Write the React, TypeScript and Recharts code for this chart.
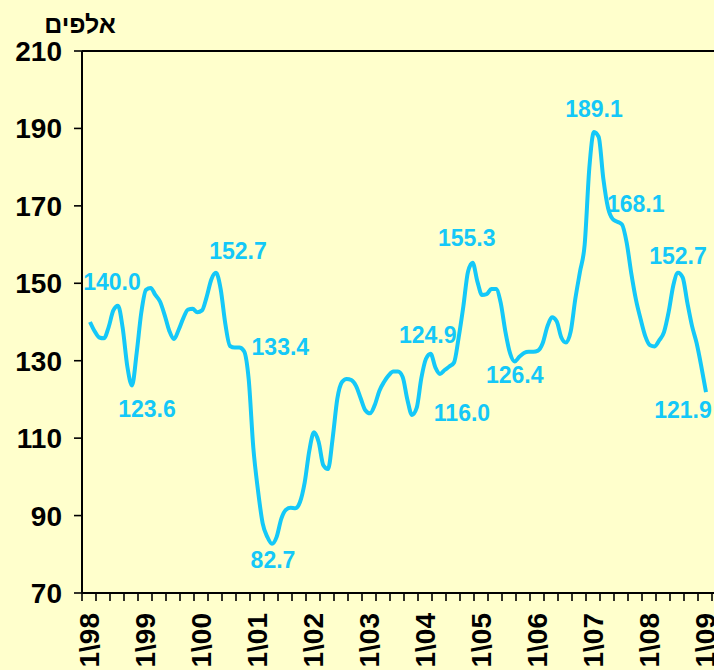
import React from "react";
import { LineChart, Line, XAxis, YAxis, ReferenceLine, LabelList } from "recharts";

// Monthly values, Jan 1998 .. Jan 2009 (thousands)
const VALUES: number[] = [
  140.0, 137.6, 136.0, 135.8, 138.7, 143.0, 144.2, 138.5, 128.5, 123.6, 132.0, 142.5,
  148.3, 148.8, 147.0, 145.3, 141.8, 137.7, 135.6, 138.0, 141.0, 143.2, 143.4, 142.5,
  143.0, 146.5, 151.0, 152.7, 148.5, 139.5, 133.8, 133.4, 133.4, 132.5, 125.3, 107.5,
  96.5, 88.0, 84.5, 82.7, 84.5, 89.2, 91.5, 92.0, 91.9, 93.5, 98.5, 106.8,
  111.5, 109.0, 103.0, 102.0, 110.0, 120.2, 124.5, 125.3, 125.0, 123.5, 120.3, 117.2,
  116.4, 118.5, 122.2, 124.5, 126.2, 127.2, 127.2, 125.8, 120.0, 116.0, 117.8, 125.5,
  130.5, 131.8, 128.3, 126.6, 127.6, 128.5, 129.5, 136.0, 144.0, 153.0, 155.3, 150.5,
  147.0, 147.2, 148.5, 148.5, 145.0, 137.6, 132.0, 129.8, 131.0, 132.0, 132.3, 132.3,
  132.6, 134.5, 138.8, 141.2, 140.2, 136.0, 134.7, 137.5, 146.0, 153.0, 160.0, 179.8,
  189.1, 187.8, 177.0, 169.5, 166.6, 165.9, 165.2, 160.5, 152.5, 145.7, 140.7, 136.3,
  134.0, 133.7, 135.3, 137.4, 142.6, 149.5, 152.7, 151.5, 145.0, 139.0, 134.5, 128.5,
  121.9,
];

const YEAR_LABELS: string[] = [
  "1\\98", "1\\99", "1\\00", "1\\01", "1\\02", "1\\03",
  "1\\04", "1\\05", "1\\06", "1\\07", "1\\08", "1\\09",
];

const Y_TICKS: number[] = [70, 90, 110, 130, 150, 170, 190, 210];

const ANNOTATION_INDEX: number[] = [0, 9, 27, 32, 39, 73, 69, 82, 91, 108, 112, 126, 132];
const ANNOTATION_TEXT: string[] = [
  "140.0", "123.6", "152.7", "133.4", "82.7", "124.9", "116.0",
  "155.3", "126.4", "189.1", "168.1", "152.7", "121.9",
];

const UNIT_LABEL = "אלפים";

// label placement (pixel offsets from the point: centre x, baseline y)
const LABEL_OFFSETS: Record<number, [number, number]> = {
  0: [22, -32],
  9: [15, 32],
  27: [22, -14],
  32: [41, 7],
  39: [1, 24],
  73: [-3, -11],
  69: [50, 6],
  82: [-6, -17],
  91: [0, 22],
  108: [0, -15],
  112: [23, -7],
  126: [0, -9],
  132: [-23, 26],
};

const data = VALUES.map((v, i) => ({ m: i, v }));

const PAD = 1.714; // months between axis edge and first point
const X_MIN = -PAD;
const X_MAX = VALUES.length - 1 + PAD;

const QUARTER_TICKS: number[] = [];
for (let t = X_MIN; t < X_MAX - 0.01; t += 3) QUARTER_TICKS.push(+t.toFixed(3));
const LABEL_TICKS: number[] = YEAR_LABELS.map((_, j) => +(12 * j - PAD + 1.5).toFixed(3));
const LABEL_MAP = new Map<string, string>();
LABEL_TICKS.forEach((t, j) => LABEL_MAP.set(t.toFixed(3), YEAR_LABELS[j]));
const ALL_TICKS = [...QUARTER_TICKS, ...LABEL_TICKS];

const FONT = "'Liberation Sans', Arial, sans-serif";
const LINE_COLOR = "#14C8F8";
const BG = "#FFFFCC";

const XTick = (props: any) => {
  const { x, y, payload } = props;
  const key = Number(payload.value).toFixed(3);
  const label = LABEL_MAP.get(key);
  if (label) {
    const bx = x + 10;
    const by = y + 20;
    return (
      <text
        x={bx}
        y={by}
        transform={`rotate(-90 ${bx} ${by})`}
        textAnchor="end"
        fontFamily={FONT}
        fontWeight="bold"
        fontSize={28}
        fill="#000"
      >
        {label}
      </text>
    );
  }
  return <line x1={x} x2={x} y1={y} y2={y + 8} stroke="#000" strokeWidth={1.6} />;
};

const renderLabel = (props: any) => {
  const { x, y, index } = props;
  const k = ANNOTATION_INDEX.indexOf(index);
  if (k < 0) return null;
  const [dx, dy] = LABEL_OFFSETS[index] || [0, 0];
  return (
    <text
      key={`lab-${index}`}
      x={x + dx}
      y={y + dy}
      textAnchor="middle"
      fontFamily={FONT}
      fontWeight="bold"
      fontSize={23}
      fill={LINE_COLOR}
    >
      {ANNOTATION_TEXT[k]}
    </text>
  );
};

export default function App() {
  return (
    <div
      style={{
        position: "fixed",
        left: 0,
        top: 0,
        width: 714,
        height: 670,
        overflow: "hidden",
        background: BG,
        fontFamily: FONT,
      }}
    >
      <div
        style={{
          position: "absolute",
          left: 30,
          top: 9,
          width: 100,
          textAlign: "center",
          fontWeight: "bold",
          fontSize: 25,
          lineHeight: "30px",
          color: "#000",
          direction: "rtl",
        }}
      >
        {UNIT_LABEL}
      </div>
      <LineChart
        width={714}
        height={670}
        data={data}
        margin={{ top: 51, right: 0, bottom: 0, left: 0 }}
        style={{ position: "absolute", left: 0, top: 0 }}
      >
        <XAxis
          dataKey="m"
          type="number"
          domain={[X_MIN, X_MAX]}
          ticks={ALL_TICKS}
          interval={0}
          tick={<XTick />}
          tickLine={false}
          tickSize={0}
          tickMargin={0}
          height={77}
          axisLine={{ stroke: "#000", strokeWidth: 2 }}
          allowDataOverflow
        />
        <YAxis
          type="number"
          domain={[70, 210]}
          ticks={Y_TICKS}
          interval={0}
          width={82}
          tickSize={8}
          tickMargin={12}
          tickLine={{ stroke: "#000", strokeWidth: 1.6 }}
          axisLine={{ stroke: "#000", strokeWidth: 2 }}
          tick={{ fontSize: 28, fontWeight: "bold", fill: "#000", fontFamily: FONT }}
          allowDataOverflow
        />
        <ReferenceLine y={210} stroke="#000" strokeWidth={2} />
        <Line
          type="monotone"
          dataKey="v"
          stroke={LINE_COLOR}
          strokeWidth={4}
          dot={false}
          isAnimationActive={false}
        >
          <LabelList dataKey="v" content={renderLabel} />
        </Line>
      </LineChart>
    </div>
  );
}
